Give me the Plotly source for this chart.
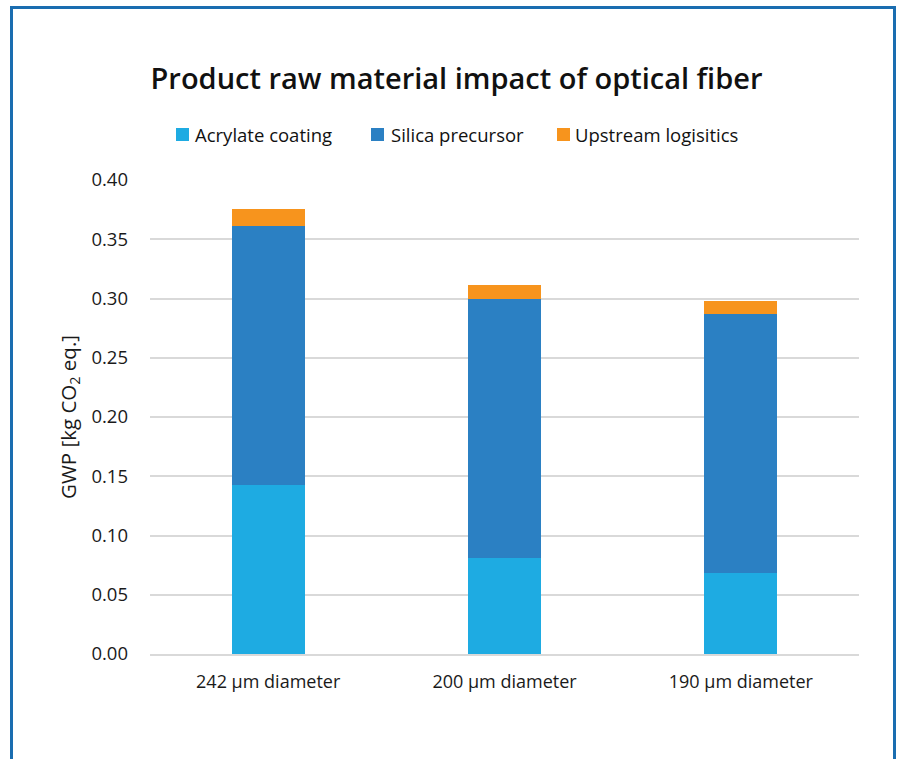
import plotly.graph_objects as go

categories = ["242 µm diameter", "200 µm diameter", "190 µm diameter"]
series_names = ["Acrylate coating", "Silica precursor", "Upstream logisitics"]
acrylate = [0.1426, 0.0810, 0.0684]
silica = [0.2186, 0.2186, 0.2185]
upstream = [0.0143, 0.0118, 0.0110]
colors = ["#1eabe2", "#2b80c3", "#f7941d"]
y_ticks = [0.0, 0.05, 0.10, 0.15, 0.20, 0.25, 0.30, 0.35, 0.40]

FONT = "Open Sans"
W, H = 898, 759
ML, MR, MT, MB = 150, 39, 180, 105
PW, PH = W - ML - MR, H - MT - MB


def px_x(x):
    return (x - ML) / PW


def px_y(y):
    return (H - MB - y) / PH


fig = go.Figure()
for name, vals, col in zip(series_names, [acrylate, silica, upstream], colors):
    fig.add_trace(go.Bar(name=name, x=categories, y=vals, marker_color=col,
                         marker_line_width=0))

# custom legend (square + text), positioned like the reference
legend_sq_x = [176, 371, 557]
legend_tx_x = [192.5, 388.5, 572.5]
shapes = []
annotations = []
for name, col, sx, tx in zip(series_names, colors, legend_sq_x, legend_tx_x):
    shapes.append(dict(type="rect", xref="paper", yref="paper",
                       x0=px_x(sx), x1=px_x(sx + 13), y0=px_y(141), y1=px_y(128),
                       fillcolor=col, line=dict(width=0)))
    annotations.append(dict(text=name, xref="paper", yref="paper", x=px_x(tx), y=px_y(134.5),
                            xanchor="left", yanchor="middle", showarrow=False,
                            font=dict(size=18.5, family=FONT, color="#111111")))

# outer blue frame
shapes.append(dict(type="rect", xref="paper", yref="paper",
                   x0=px_x(11.5), x1=px_x(894.5), y0=px_y(800), y1=px_y(7.5),
                   line=dict(color="#1a6db0", width=3), layer="above"))

fig.update_layout(
    barmode="stack",
    bargap=0.69,
    width=W, height=H,
    margin=dict(l=ML, r=MR, t=MT, b=MB),
    paper_bgcolor="white", plot_bgcolor="white",
    font=dict(family=FONT, color="#1a1a1a", size=18),
    title=dict(text="Product raw material impact of optical fiber",
               x=456.5 / W, xanchor="center", y=1 - 78.5 / H, yanchor="middle",
               font=dict(size=29, family=FONT, color="#111111", weight=600)),
    showlegend=False,
    xaxis=dict(showgrid=False, showline=True, linecolor="#d9d9d9", linewidth=2,
               tickfont=dict(size=18), ticks="", ticklabelstandoff=10),
    yaxis=dict(range=[0, 0.4], tickvals=y_ticks, tickformat=".2f",
               showgrid=True, gridcolor="#d9d9d9", gridwidth=1.5, zeroline=False,
               tickfont=dict(size=18.5), ticklabelstandoff=21,
               title=dict(text="GWP [kg CO<sub>2</sub> eq.]", font=dict(size=20.5), standoff=9)),
    shapes=shapes,
    annotations=annotations,
)

fig.write_html("out.html", config={"displayModeBar": False},
               post_script="document.body.style.margin='0';")
